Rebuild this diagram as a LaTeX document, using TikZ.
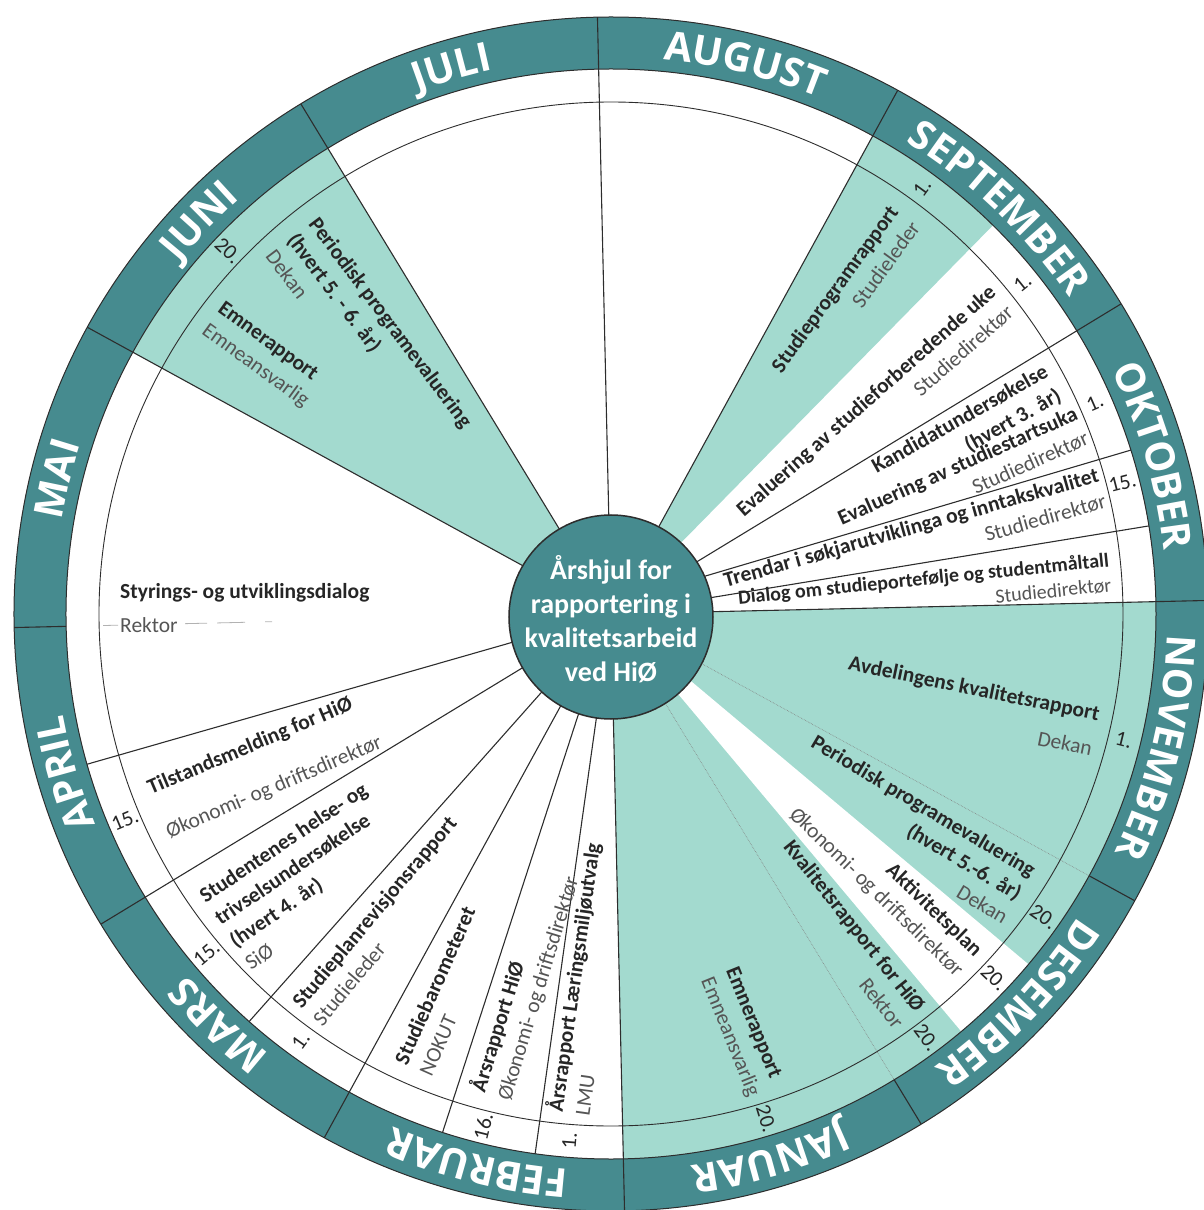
\documentclass[tikz,border=0pt]{standalone}
\usepackage{fontspec}
\setmainfont{Carlito}
\newfontfamily\monthfont{Open Sans}
\usetikzlibrary{decorations.text}

\definecolor{ringteal}{RGB}{70,139,143}
\definecolor{mint}{RGB}{163,218,207}
\definecolor{rim}{RGB}{45,45,45}
\definecolor{rolegray}{RGB}{85,85,85}

\newcommand{\rolename}[1]{{\mdseries\color{rolegray}#1}}

\begin{document}
\begin{tikzpicture}[x=1pt,y=1pt,
spoke/.style={draw=rim, line width=1.1pt},
fine/.style={draw=rim!60, line width=0.6pt, densely dotted},
event/.style={font=\bfseries\fontsize{21.5}{27}\selectfont, text=black!85, inner sep=0pt},
datelbl/.style={font=\fontsize{21.5}{24}\selectfont, text=black!85, inner sep=0pt},
hubtext/.style={align=center, text=white, inner sep=0pt, font=\bfseries\fontsize{28}{34}\selectfont},
]
\useasboundingbox (-611,-596) rectangle (593,614);
\clip (-611,-596) rectangle (593,614);

% coloured sectors
\fill[mint] (0,0) -- (45.5:545) arc[start angle=45.5, end angle=61.3, radius=545] -- cycle;
\fill[mint] (0,0) -- (121.3:545) arc[start angle=121.3, end angle=151.3, radius=545] -- cycle;
\fill[mint] (0,0) -- (-88.7:545) arc[start angle=-88.7, end angle=1.3, radius=545] -- cycle;
\fill[white] (0,0) -- (-50:545) arc[start angle=-50, end angle=-40, radius=545] -- cycle;

\draw[rim, line width=0.9pt] (0,0) circle[radius=512];

\foreach \a in {1.3,9.3,31.3,61.3,91.3,121.3,151.3,196,211.3,228.4,241.3,252,262,271.3}
  \draw[spoke] (\a:60) -- (\a:545);
\draw[spoke] (22:100) -- (17.5:545);
\foreach \a in {-28.7,-58.7}
  \draw[fine] (\a:60) -- (\a:545);
\foreach \ra/\rb in {493/508,404/426,366/394,339/346}
  \draw[black!30, line width=0.8pt] (181.3:\ra) -- (181.3:\rb);

% month ring
\fill[ringteal, even odd rule] (0,0) circle[radius=597] (0,0) circle[radius=545];
\draw[rim, line width=1pt] (0,0) circle[radius=597] (0,0) circle[radius=545];
\foreach \k in {0,...,11}
{
  \pgfmathsetmacro\bnd{91.3-30*\k}
  \draw[spoke] (\bnd:545) -- (\bnd:597);
}
\foreach \m [count=\k from 0] in {AUGUST,SEPTEMBER,OKTOBER,NOVEMBER,DESEMBER,JANUAR,FEBRUAR,MARS,APRIL,MAI,JUNI,JULI}
{
  \pgfmathsetmacro\ms{91.3-30*\k}
  \pgfmathsetmacro\me{61.3-30*\k}
  \monthfont\bfseries\fontsize{40}{40}\selectfont
  \path[decorate, decoration={text along path, text align=center, text color=white, text/.expanded=\m}]
    (\ms:557) arc[start angle=\ms, end angle=\me, radius=557];
}

% dates
\foreach \a/\dt [count=\i] in {136.5/20.,53.9/1.,38.8/1.,23.6/1.,14.4/15.,-13.8/1.,-35/20.,-43.5/20.,-53.3/20.,-72.9/20.,265.5/1.,256/16.,234/1.,220/15.,203/15.}
{
  \pgfmathsetmacro\tilt{cos(\a)<0 ? \a+180 : \a}
  \node[datelbl, rotate=\tilt] (date\i) at (\a:528) {\dt};
}

% hub
\draw[rim, fill=ringteal, line width=1.5pt] (0,-3) circle[radius=102];
\node[hubtext] (hub) at (0,-5) {Årshjul for\\rapportering i\\kvalitetsarbeid\\ved HiØ};

% events
\node[event, rotate=-53, anchor=north west, align=left] (perJun) at (-291,399) {Periodisk programevaluering\\(hvert 5. - 6. år)\\\rolename{Dekan}};
\node[event, rotate=-36, anchor=north west, align=left] (emnJun) at (-386,314) {Emnerapport\\\rolename{Emneansvarlig}};
\node[event, rotate=54, anchor=north east, align=right] (spRap) at (276,411) {Studieprogramrapport\\\rolename{Studieleder}};
\node[event, rotate=41.4, anchor=north east, align=right] (evForb) at (376,331) {Evaluering av studieforberedende uke\\\rolename{Studiedirektør}};
\node[event, rotate=29.5, anchor=north east, align=right] (kandUs) at (431,251) {Kandidatundersøkelse\\(hvert 3. år)};
\node[event, rotate=24.2, anchor=north east, align=right] (evStart) at (462,209) {Evaluering av studiestartsuka\\\rolename{Studiedirektør}};
\node[event, rotate=15.8, anchor=north east, align=right] (trendar) at (485,147) {Trendar i søkjarutviklinga og inntakskvalitet\\\rolename{Studiedirektør}};
\node[event, rotate=5.8, anchor=north east, align=right, font=\bfseries\fontsize{20}{25}\selectfont] (dialog) at (497,62) {Dialog om studieportefølje og studentmåltall\\\rolename{Studiedirektør}};
\node[event, rotate=-11.6, anchor=north east, align=right] (avdRap) at (490,-92) {Avdelingens kvalitetsrapport\\[9pt]\rolename{Dekan}};
\node[event, rotate=-30.8, anchor=north east, align=right] (perNov) at (427,-251) {Periodisk programevaluering\\(hvert 5.-6. år)\\\rolename{Dekan}};
\node[event, rotate=-44, anchor=north east, align=right] (aktPlan) at (374,-333) {Aktivitetsplan\\\rolename{Økonomi- og driftsdirektør}};
\node[event, rotate=-51.5, anchor=north east, align=right] (kvalRap) at (316,-390) {Kvalitetsrapport for HiØ\\\rolename{Rektor}};
\node[event, rotate=-68, anchor=north west, align=left] (emnJan) at (128,-351) {Emnerapport\\\rolename{Emneansvarlig}};
\node[event, rotate=82, anchor=north west, align=left] (aarLmu) at (-67,-496) {Årsrapport Læringsmiljøutvalg\\\rolename{LMU}};
\node[event, rotate=73, anchor=north west, align=left] (aarHio) at (-144,-474) {Årsrapport HiØ\\\rolename{Økonomi- og driftsdirektør}};
\node[event, rotate=66, anchor=north west, align=left] (stBar) at (-218,-446) {Studiebarometeret\\\rolename{NOKUT}};
\node[event, rotate=50, anchor=north west, align=left] (stPlan) at (-321,-386) {Studieplanrevisjonsrapport\\\rolename{Studieleder}};
\node[event, rotate=34, anchor=north west, align=left] (helse) at (-414,-277) {Studentenes helse- og\\trivselsundersøkelse\\(hvert 4. år)\\\rolename{SiØ}};
\node[event, rotate=23, anchor=north west, align=left] (tilst) at (-466,-167) {Tilstandsmelding for HiØ\\[20pt]\rolename{Økonomi- og driftsdirektør}};
\node[event, anchor=north west, align=left] (styr) at (-491,31) {Styrings- og utviklingsdialog\\[7pt]\rolename{Rektor}};

\end{tikzpicture}
\end{document}
